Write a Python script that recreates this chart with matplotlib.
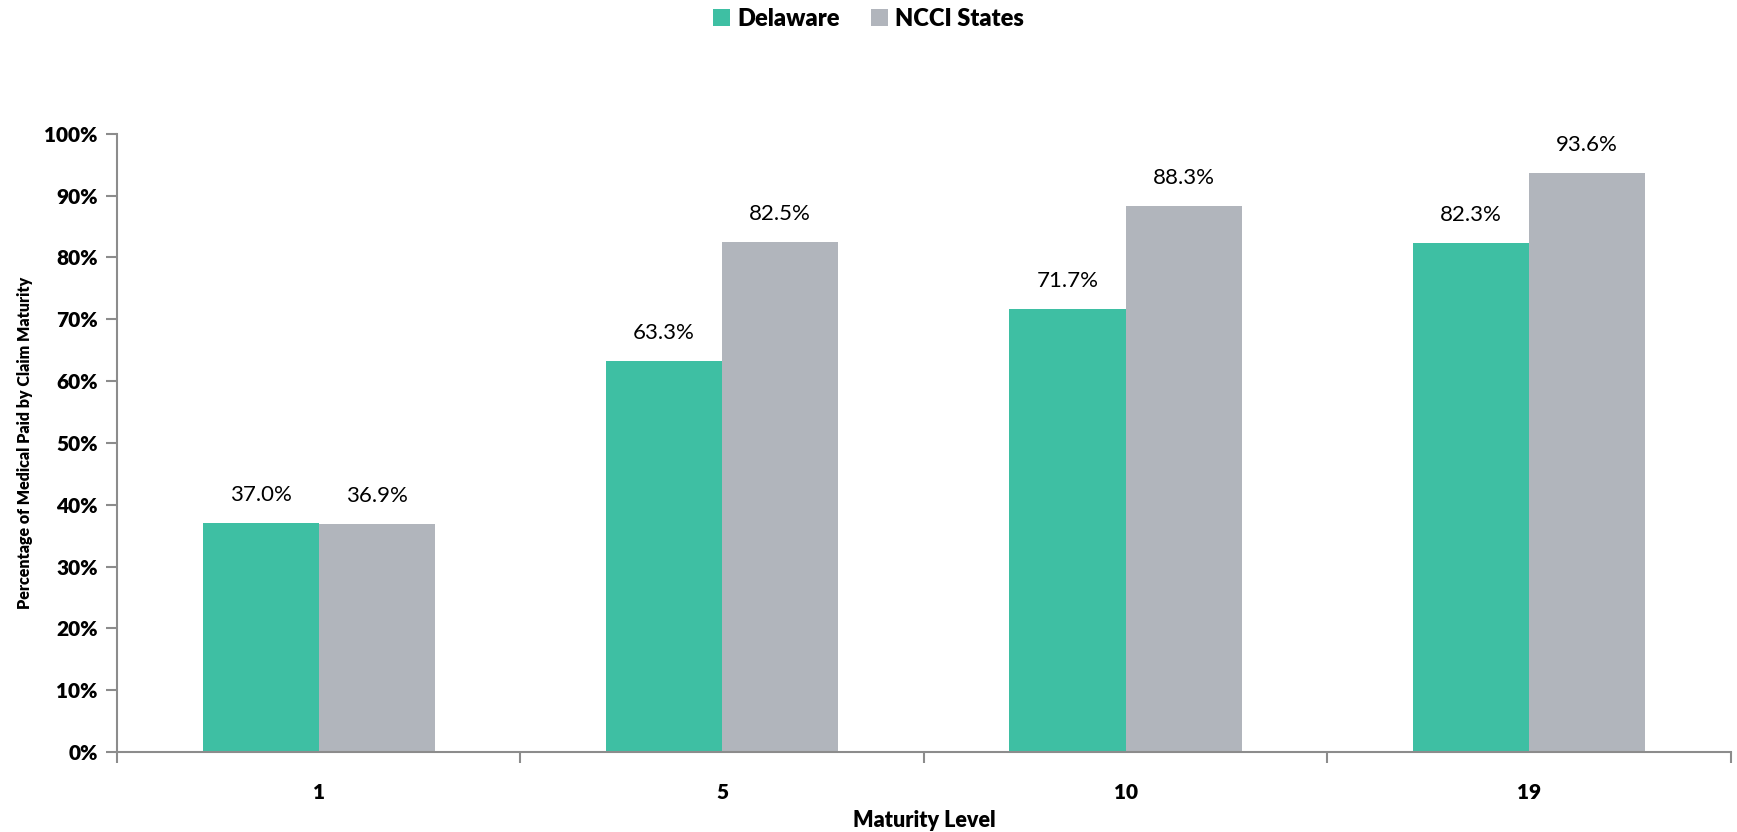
import matplotlib.pyplot as plt
import numpy as np

# Claim maturity levels and share of medical paid (%)
niveaux = ['1', '5', '10', '19']
delaware = [37.0, 63.3, 71.7, 82.3]
ncci = [36.9, 82.5, 88.3, 93.6]
series = ['Delaware', 'NCCI States']

plt.rcParams['font.family'] = ['Lato', 'DejaVu Sans']

fig = plt.figure(figsize=(17.37, 8.32), dpi=100)
ax = fig.add_axes([0.0674, 0.0962, 0.929, 0.743])

x = np.arange(len(niveaux))
largeur = 0.288
couleurs = ['#3EBFA3', '#B1B5BC']

barres1 = ax.bar(x - largeur / 2, delaware, largeur, color=couleurs[0], label=series[0])
barres2 = ax.bar(x + largeur / 2, ncci, largeur, color=couleurs[1], label=series[1])

# Valeurs au-dessus des barres
for barres, valeurs in ((barres1, delaware), (barres2, ncci)):
    for b, v in zip(barres, valeurs):
        ax.annotate(f'{v:.1f}%', xy=(b.get_x() + b.get_width() / 2, v),
                    xytext=(0, 13), textcoords='offset points',
                    ha='center', va='bottom', fontsize=16)

ax.set_xlim(-0.5, len(niveaux) - 0.5)
ax.set_ylim(0, 100)
ax.set_yticks(np.arange(0, 101, 10))
ax.set_yticklabels([f'{v}%' for v in range(0, 101, 10)], fontsize=15, fontweight='heavy')

# Graduations entre les groupes, étiquettes au centre
ax.set_xticks(np.arange(-0.5, len(niveaux), 1.0))
ax.set_xticklabels([])
ax.set_xticks(x, minor=True)
ax.set_xticklabels(niveaux, minor=True, fontsize=15, fontweight='heavy')
ax.tick_params(axis='x', which='minor', length=0, pad=22)
ax.tick_params(axis='x', which='major', length=8, color='#8C8C8C', width=1.5)
ax.tick_params(axis='y', length=8, color='#8C8C8C', width=1.5, pad=6)

for cote in ('top', 'right'):
    ax.spines[cote].set_visible(False)
for cote in ('left', 'bottom'):
    ax.spines[cote].set_color('#8C8C8C')
    ax.spines[cote].set_linewidth(1.5)

ax.set_xlabel('Maturity Level', fontsize=15.5, fontweight='heavy', labelpad=6)
ax.set_ylabel('Percentage of Medical Paid by Claim Maturity', fontsize=11.5,
              fontweight='heavy', labelpad=8)

fig.legend(loc='upper center', bbox_to_anchor=(0.5, 1.016), ncol=2, frameon=False,
           prop={'size': 17, 'weight': 'heavy'}, handlelength=0.75, handleheight=0.75,
           columnspacing=1.3, handletextpad=0.3)

plt.savefig('out.png', dpi=100)
plt.close()
